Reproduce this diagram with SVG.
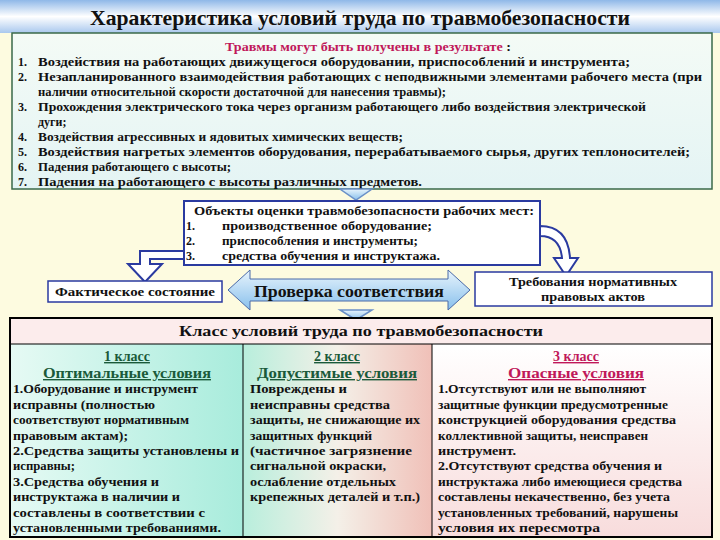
<svg xmlns="http://www.w3.org/2000/svg" width="720" height="540" viewBox="0 0 720 540">
<defs>
<linearGradient id="ban" x1="0" y1="0" x2="0" y2="1"><stop offset="0" stop-color="#8fb8e8"/><stop offset="0.5" stop-color="#ffffff"/><stop offset="1" stop-color="#a9c8ee"/></linearGradient>
<linearGradient id="top" x1="0" y1="0" x2="0" y2="1"><stop offset="0" stop-color="#f4fbf6"/><stop offset="1" stop-color="#e4f4f4"/></linearGradient>
<linearGradient id="c1" x1="0" y1="0" x2="1" y2="0"><stop offset="0" stop-color="#e6faf4"/><stop offset="1" stop-color="#a8ecdc"/></linearGradient>
<linearGradient id="c2" x1="0" y1="0" x2="1" y2="0"><stop offset="0" stop-color="#b8eedc"/><stop offset="0.5" stop-color="#f4f0e8"/><stop offset="1" stop-color="#f0c0b8"/></linearGradient>
<linearGradient id="c3" x1="0" y1="0" x2="0" y2="1"><stop offset="0" stop-color="#ffffff"/><stop offset="1" stop-color="#f8dcdc"/></linearGradient>
<linearGradient id="arr" x1="0" y1="0" x2="0" y2="1"><stop offset="0" stop-color="#e8f4fc"/><stop offset="1" stop-color="#88c0ec"/></linearGradient>
<style>
text{font-family:"Liberation Serif","DejaVu Serif Condensed","DejaVu Serif","Times New Roman",serif;font-weight:bold;fill:#111}
.t{font-size:12px}
.c{font-size:12.5px}
.h{font-size:14px;text-decoration:underline}
</style>
</defs>
<rect width="720" height="540" fill="#fdfbe0"/>
<g id="title"><rect x="0" y="0" width="720" height="33" fill="url(#ban)"/>
<text x="360" y="25" text-anchor="middle" font-size="21" textLength="540" lengthAdjust="spacingAndGlyphs">Характеристика условий труда по травмобезопасности</text></g>
<g id="injuries">
<rect x="12" y="33" width="700" height="156" fill="url(#top)" stroke="#3a6a4a" stroke-width="1.5"/>
<text x="368" y="51" text-anchor="middle" class="t" textLength="286" lengthAdjust="spacingAndGlyphs"><tspan fill="#c0185a">Травмы могут быть получены в результате</tspan> :</text>
<g class="t">
<text x="18" y="66">1.</text><text x="38" y="66" textLength="592" lengthAdjust="spacingAndGlyphs">Воздействия на работающих движущегося оборудовании, приспособлений и инструмента;</text>
<text x="18" y="81">2.</text><text x="38" y="81" textLength="664" lengthAdjust="spacingAndGlyphs">Незапланированного взаимодействия  работающих с неподвижными элементами рабочего места (при</text>
<text x="38" y="96" textLength="408" lengthAdjust="spacingAndGlyphs">наличии относительной скорости достаточной для нанесения травмы);</text>
<text x="18" y="111">3.</text><text x="38" y="111" textLength="608" lengthAdjust="spacingAndGlyphs">Прохождения электрического тока через организм работающего либо воздействия электрической</text>
<text x="38" y="126">дуги;</text>
<text x="18" y="141">4.</text><text x="38" y="141" textLength="365" lengthAdjust="spacingAndGlyphs">Воздействия агрессивных и ядовитых химических веществ;</text>
<text x="18" y="156">5.</text><text x="38" y="156" textLength="652" lengthAdjust="spacingAndGlyphs">Воздействия нагретых элементов оборудования, перерабатываемого сырья, других теплоносителей;</text>
<text x="18" y="171">6.</text><text x="38" y="171" textLength="193" lengthAdjust="spacingAndGlyphs">Падения работающего с высоты;</text>
<text x="18" y="186">7.</text><text x="38" y="186" textLength="384" lengthAdjust="spacingAndGlyphs">Падения на работающего с высоты различных предметов.</text>
</g></g>
<g id="connectors" stroke="#2a3aa0" stroke-width="1.5">
<path d="M340 189 L372 189 L356 200 Z" fill="url(#arr)" stroke="#6a90c8"/>
<path d="M184 251 L140 251 L140 264 L128 264 L145 282 L162 264 L150 264 L150 259 L184 259 Z" fill="#ffffff" stroke-width="2"/>
<path d="M540 226 Q568 226 570 258 L578 258 L566 276 L554 258 L562 258 Q560 236 540 236 Z" fill="#ffffff" stroke-width="2"/>
<path d="M340 310 L372 310 L356 320 Z" fill="url(#arr)" stroke="#6a90c8"/>
</g>
<g id="objects">
<rect x="184" y="201" width="356" height="64" fill="#ffffff" stroke="#2a3aa0" stroke-width="2"/>
<g class="t">
<text x="194" y="215" textLength="340" lengthAdjust="spacingAndGlyphs">Объекты оценки травмобезопасности рабочих мест:</text>
<text x="186" y="230">1.</text><text x="222" y="230" textLength="210" lengthAdjust="spacingAndGlyphs">производственное оборудование;</text>
<text x="186" y="245">2.</text><text x="222" y="245" textLength="196" lengthAdjust="spacingAndGlyphs">приспособления и инструменты;</text>
<text x="186" y="260">3.</text><text x="222" y="260" textLength="218" lengthAdjust="spacingAndGlyphs">средства обучения и инструктажа.</text>
</g></g>
<g id="fact"><rect x="48" y="281" width="174" height="21" fill="#ffffff" stroke="#2a3aa0" stroke-width="1.5"/>
<text x="135" y="296" text-anchor="middle" font-size="11.5" textLength="160" lengthAdjust="spacingAndGlyphs">Фактическое состояние</text></g>
<g id="check"><path d="M228 290 L250 270 L250 279 L448 279 L448 270 L470 290 L448 310 L448 301 L250 301 L250 310 Z" fill="url(#arr)" stroke="#4a6aa8" stroke-width="1"/>
<text x="349" y="297" text-anchor="middle" font-size="17" textLength="190" lengthAdjust="spacingAndGlyphs">Проверка соответствия</text></g>
<g id="norms"><rect x="475" y="272" width="237" height="34" fill="#ffffff" stroke="#2a3aa0" stroke-width="1.5"/>
<text x="593" y="286" text-anchor="middle" font-size="12" textLength="168" lengthAdjust="spacingAndGlyphs">Требования нормативных</text>
<text x="593" y="301" text-anchor="middle" font-size="12" textLength="104" lengthAdjust="spacingAndGlyphs">правовых актов</text></g>
<g id="table">
<rect x="10" y="318" width="702" height="26" fill="#fcecec"/>
<rect x="10" y="344" width="233" height="193" fill="url(#c1)"/>
<rect x="243" y="344" width="189" height="193" fill="url(#c2)"/>
<rect x="432" y="344" width="280" height="193" fill="url(#c3)"/>
<rect x="10" y="318" width="702" height="219" fill="none" stroke="#000" stroke-width="2"/>
<path d="M10 344 H712 M243 344 V537 M432 344 V537" stroke="#000" stroke-width="1"/>
<text x="361" y="336" text-anchor="middle" font-size="15" textLength="364" lengthAdjust="spacingAndGlyphs">Класс условий труда по травмобезопасности</text>
<text x="127" y="361" text-anchor="middle" class="h" style="fill:#1a5a3a">1 класс</text>
<text x="127" y="378" text-anchor="middle" class="h" style="fill:#1a5a3a" textLength="168" lengthAdjust="spacingAndGlyphs">Оптимальные условия</text>
<text x="337" y="361" text-anchor="middle" class="h" style="fill:#1a5a3a">2 класс</text>
<text x="337" y="378" text-anchor="middle" class="h" style="fill:#1a5a3a" textLength="160" lengthAdjust="spacingAndGlyphs">Допустимые условия</text>
<text x="576" y="361" text-anchor="middle" class="h" style="fill:#c0185a">3 класс</text>
<text x="576" y="378" text-anchor="middle" class="h" style="fill:#c0185a" textLength="136" lengthAdjust="spacingAndGlyphs">Опасные условия</text>
<g class="c" lengthAdjust="spacingAndGlyphs">
<text x="13" y="393" textLength="185" lengthAdjust="spacingAndGlyphs">1.Оборудование и инструмент</text>
<text x="13" y="409" textLength="142" lengthAdjust="spacingAndGlyphs">исправны (полностью</text>
<text x="13" y="424" textLength="176" lengthAdjust="spacingAndGlyphs">соответствуют нормативным</text>
<text x="13" y="440" textLength="115" lengthAdjust="spacingAndGlyphs">правовым актам);</text>
<text x="13" y="455" textLength="226" lengthAdjust="spacingAndGlyphs">2.Средства защиты установлены и</text>
<text x="13" y="470" textLength="62" lengthAdjust="spacingAndGlyphs">исправны;</text>
<text x="13" y="486" textLength="146" lengthAdjust="spacingAndGlyphs">3.Средства обучения и</text>
<text x="13" y="501" textLength="167" lengthAdjust="spacingAndGlyphs">инструктажа в наличии и</text>
<text x="13" y="517" textLength="192" lengthAdjust="spacingAndGlyphs">составлены в соответствии с</text>
<text x="13" y="532" textLength="208" lengthAdjust="spacingAndGlyphs">установленными требованиями.</text>
<text x="250" y="393" textLength="97" lengthAdjust="spacingAndGlyphs">Повреждены и</text>
<text x="250" y="409" textLength="140" lengthAdjust="spacingAndGlyphs">неисправны средства</text>
<text x="250" y="424" textLength="170" lengthAdjust="spacingAndGlyphs">защиты, не снижающие их</text>
<text x="250" y="440" textLength="122" lengthAdjust="spacingAndGlyphs">защитных функций</text>
<text x="250" y="455" textLength="162" lengthAdjust="spacingAndGlyphs">(частичное загрязнение</text>
<text x="250" y="470" textLength="136" lengthAdjust="spacingAndGlyphs">сигнальной окраски,</text>
<text x="250" y="486" textLength="146" lengthAdjust="spacingAndGlyphs">ослабление отдельных</text>
<text x="250" y="501" textLength="170" lengthAdjust="spacingAndGlyphs">крепежных деталей и т.п.)</text>
<text x="438" y="393" textLength="208" lengthAdjust="spacingAndGlyphs">1.Отсутствуют или не выполняют</text>
<text x="438" y="409" textLength="230" lengthAdjust="spacingAndGlyphs">защитные функции предусмотренные</text>
<text x="438" y="424" textLength="238" lengthAdjust="spacingAndGlyphs">конструкцией оборудования средства</text>
<text x="438" y="440" textLength="210" lengthAdjust="spacingAndGlyphs">коллективной защиты, неисправен</text>
<text x="438" y="455" textLength="78" lengthAdjust="spacingAndGlyphs">инструмент.</text>
<text x="438" y="470" textLength="224" lengthAdjust="spacingAndGlyphs">2.Отсутствуют средства обучения и</text>
<text x="438" y="486" textLength="244" lengthAdjust="spacingAndGlyphs">инструктажа либо имеющиеся средства</text>
<text x="438" y="501" textLength="232" lengthAdjust="spacingAndGlyphs">составлены некачественно, без учета</text>
<text x="438" y="517" textLength="240" lengthAdjust="spacingAndGlyphs">установленных  требований, нарушены</text>
<text x="438" y="532" textLength="162" lengthAdjust="spacingAndGlyphs">условия их пересмотра</text>
</g></g>
</svg>
